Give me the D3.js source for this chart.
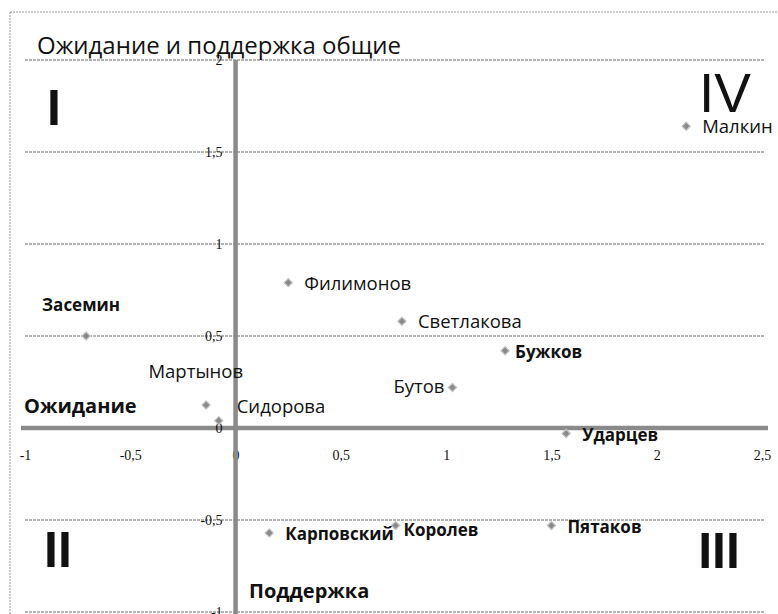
<!DOCTYPE html>
<html>
<head>
<meta charset="utf-8">
<script src="https://cdn.jsdelivr.net/npm/d3@7"></script>
<style>
  body { margin: 0; background: #fff; }
  text { font-family: "Open Sans", "Noto Sans", sans-serif; fill: #111; }
</style>
</head>
<body>
<div id="chart"></div>
<script>
// data
var names = ["Малкин", "Филимонов", "Засемин", "Светлакова", "Бужков", "Бутов",
  "Мартынов", "Сидорова", "Ударцев", "Карповский", "Королев", "Пятаков"];
var expect = [2.14, 0.25, -0.71, 0.79, 1.28, 1.03, -0.14, -0.08, 1.57, 0.16, 0.76, 1.5];
var support = [1.64, 0.79, 0.5, 0.58, 0.42, 0.22, 0.125, 0.04, -0.03, -0.57, -0.53, -0.53];
var boldNames = ["Засемин", "Бужков", "Ударцев", "Карповский", "Королев", "Пятаков"];
// label placement: r = right of marker, l = left, a = above, al = above-left, ur = up-right
var labelPos = ["r", "r", "a", "r", "r", "l", "al", "ur", "r", "r", "r", "r"];
var xTicks = [-1, -0.5, 0, 0.5, 1, 1.5, 2, 2.5];
var yTicks = [-1, -0.5, 0, 0.5, 1, 1.5, 2];
var quadrants = ["I", "II", "III", "IV"];

var width = 778, height = 614;

var svg = d3.select("#chart").append("svg")
  .attr("width", width)
  .attr("height", height);

var x = d3.scaleLinear().domain([-1, 2.5]).range([25, 762]);
var y = d3.scaleLinear().domain([-1, 2]).range([612, 60]);

var fmt = function(d) { return String(d).replace(".", ","); };

// outer frame
svg.append("rect")
  .attr("x", 10).attr("y", 12)
  .attr("width", 775).attr("height", 615)
  .attr("fill", "none")
  .attr("stroke", "#999")
  .attr("stroke-dasharray", "2,1");

// horizontal gridlines
svg.append("g").selectAll("line")
  .data(yTicks.filter(function(d) { return d !== 0; }))
  .join("line")
  .attr("x1", x(-1)).attr("x2", x(2.5) + 3)
  .attr("y1", function(d) { return y(d); })
  .attr("y2", function(d) { return y(d); })
  .attr("stroke", "#666")
  .attr("stroke-width", 1)
  .attr("stroke-dasharray", "3,1");

// axes through the origin
var xAxis = d3.axisBottom(x).tickValues(xTicks).tickFormat(fmt).tickSize(0).tickPadding(22);
var yAxis = d3.axisLeft(y).tickValues(yTicks).tickFormat(fmt).tickSize(0).tickPadding(13);

var gx = svg.append("g")
  .attr("transform", "translate(0," + y(0) + ")")
  .call(xAxis);
var gy = svg.append("g")
  .attr("transform", "translate(" + x(0) + ",0)")
  .call(yAxis);

[gx, gy].forEach(function(g) {
  g.select(".domain")
    .attr("stroke", "#8a8a8a")
    .attr("stroke-width", 4.5);
  g.selectAll(".tick text")
    .style("font-family", "'Liberation Serif', serif")
    .style("font-size", "14px")
    .attr("fill", "#222");
});
gx.select(".domain").attr("d", "M" + (x(-1) - 4) + ",0H" + (x(2.5) + 6));
gy.select(".domain").attr("d", "M0," + y(2) + "V" + (y(-1) + 4));

// axis titles
svg.append("text")
  .attr("x", 24).attr("y", 413)
  .attr("font-size", 20).attr("font-weight", "bold")
  .text("Ожидание");
svg.append("text")
  .attr("x", 249).attr("y", 598)
  .attr("font-size", 20).attr("font-weight", "bold")
  .text("Поддержка");

// title
svg.append("text")
  .attr("x", 37).attr("y", 54)
  .attr("font-size", 24)
  .text("Ожидание и поддержка общие");

// quadrant numerals
var qx = [54, 58, 719, 725];
var qy = [125, 567, 568, 112];
svg.append("g").selectAll("text")
  .data(quadrants)
  .join("text")
  .attr("x", function(d, i) { return qx[i]; })
  .attr("y", function(d, i) { return qy[i]; })
  .attr("text-anchor", "middle")
  .attr("font-size", function(d) { return d === "IV" ? 55 : 50; })
  .attr("font-weight", function(d) { return d === "IV" ? "normal" : "bold"; })
  .style("font-family", "'Liberation Sans', sans-serif")
  .text(function(d) { return d; });

// points
var pts = names.map(function(n, i) {
  return { name: n, x: expect[i], y: support[i], pos: labelPos[i],
    bold: boldNames.indexOf(n) >= 0 };
});

var sym = d3.symbol().type(d3.symbolSquare).size(34);
svg.append("g").selectAll("path")
  .data(pts)
  .join("path")
  .attr("transform", function(d) { return "translate(" + x(d.x) + "," + y(d.y) + ") rotate(45)"; })
  .attr("d", sym)
  .attr("fill", "#8a8a8a")
  .attr("stroke", "#c4c4c4")
  .attr("stroke-width", 1.2);

var dx = { r: 16, l: -8, a: -5, al: 37, ur: 18 };
var dy = { r: 7, l: 5, a: -25, al: -27, ur: -8 };
var anchor = { r: "start", l: "end", a: "middle", al: "end", ur: "start" };
// a few labels sit a little off the default spot in the original
var nudgeX = { "Бужков": -6, "Королев": -8 };
var nudgeY = { "Королев": 3 };

svg.append("g").selectAll("text")
  .data(pts)
  .join("text")
  .attr("x", function(d) { return x(d.x) + dx[d.pos] + (nudgeX[d.name] || 0); })
  .attr("y", function(d) { return y(d.y) + dy[d.pos] + (nudgeY[d.name] || 0); })
  .attr("text-anchor", function(d) { return anchor[d.pos]; })
  .attr("font-size", function(d) { return d.bold ? 17 : 18.5; })
  .attr("font-weight", function(d) { return d.bold ? "bold" : "normal"; })
  .text(function(d) { return d.name; });
</script>
</body>
</html>
